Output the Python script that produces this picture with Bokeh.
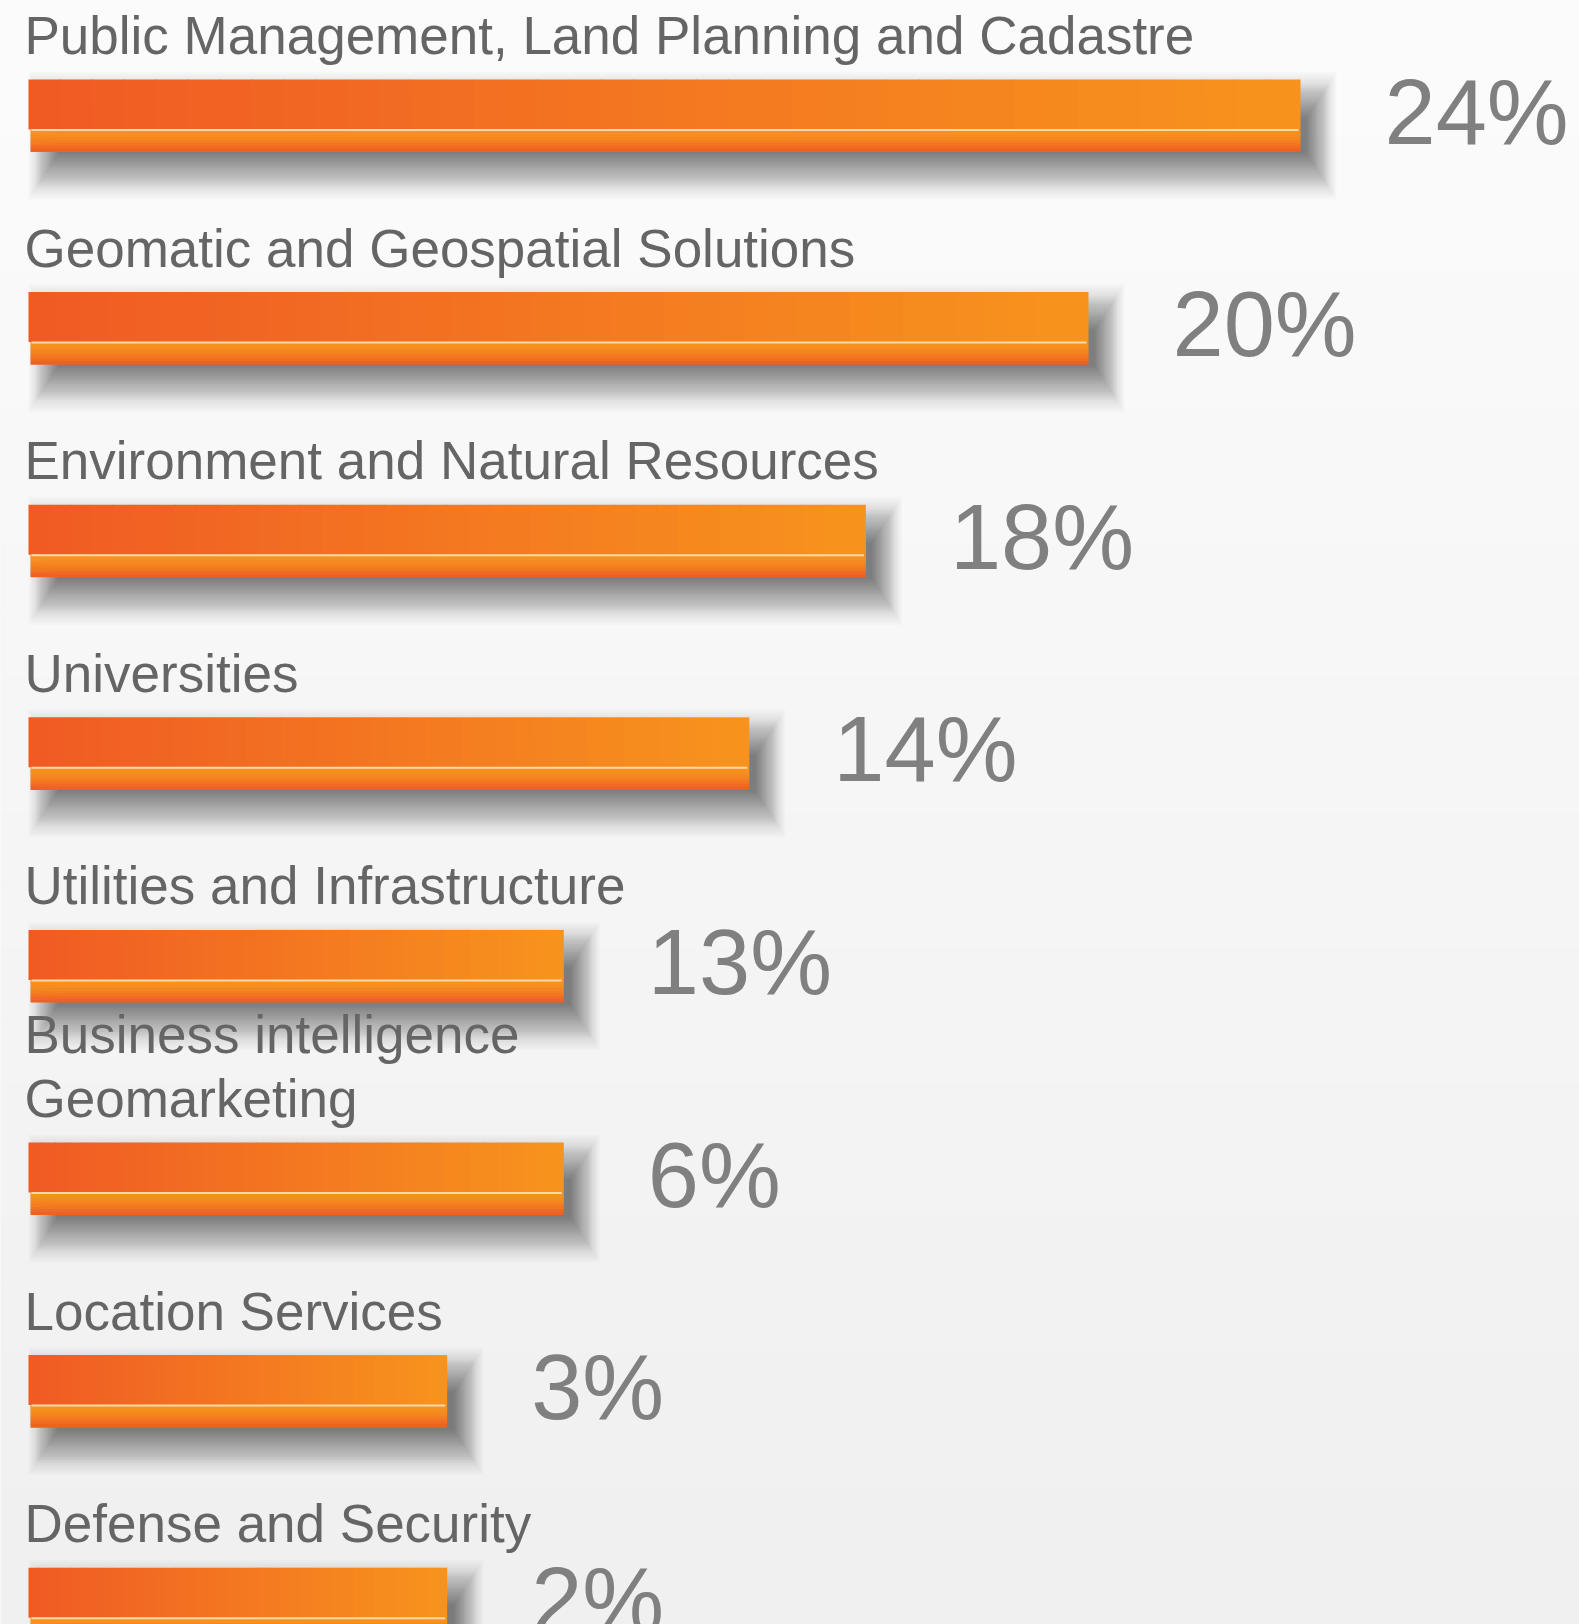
import numpy as np
from bokeh.plotting import figure
from bokeh.models import Range1d
from bokeh.core.properties import value
from bokeh.embed import file_html
from bokeh.resources import INLINE

# ---------------- data ----------------
categories = [
    "Public Management, Land Planning and Cadastre",
    "Geomatic and Geospatial Solutions",
    "Environment and Natural Resources",
    "Universities",
    "Utilities and Infrastructure",
    "Business intelligence\nGeomarketing",
    "Location Services",
    "Defense and Security",
]
shares = [24, 20, 18, 14, 13, 6, 3, 2]
share_labels = ["24%", "20%", "18%", "14%", "13%", "6%", "3%", "2%"]
# the infographic is not drawn to scale: bar lengths as drawn (in % units)
bar_lengths = [24, 20, 15.8, 13.6, 10.1, 10.1, 7.9, 7.9]

# ---------------- layout / style ----------------
W, H = 1579, 1624
PX = 53.0            # pixels per % unit
X0_PX = 28           # bar origin in pixels
ROW_TOP0 = 79
ROW_STEP = 212.6
FACE_H = 50
STRIP_H = 22
LABEL_GAP = 44
LINE_H = 64

C_LEFT = (240, 90, 36)
C_RIGHT = (247, 148, 29)


def u(px):
    return px / PX


def lerp(c1, c2, t):
    return "#%02x%02x%02x" % tuple(int(round(a + (b - a) * t)) for a, b in zip(c1, c2))


p = figure(width=W, height=H, output_backend="svg", toolbar_location=None,
           x_range=Range1d(-X0_PX / PX, (W - X0_PX) / PX),
           y_range=Range1d(H, 0), min_border=0)
p.axis.visible = False
p.grid.visible = False
p.outline_line_color = None
p.background_fill_color = "#f5f5f5"
p.border_fill_color = "#f5f5f5"

# background subtle vertical gradient
nb = 24
bl, br, bt, bb, bc = [], [], [], [], []
for k in range(nb):
    bl.append(-X0_PX / PX); br.append((W - X0_PX) / PX)
    bt.append(k * H / nb); bb.append((k + 1) * H / nb + 1)
    bc.append(lerp((251, 251, 251), (240, 240, 240), k / (nb - 1)))
p.quad(left=bl, right=br, top=bt, bottom=bb, fill_color=bc, line_color=None)

# soft drop shadows (stacked translucent rectangles)
sl, sr, st, sb, sa = [], [], [], [], []
for i, L in enumerate(bar_lengths):
    top = ROW_TOP0 + i * ROW_STEP
    bot = top + FACE_H + STRIP_H
    dx, dy = 18, 20
    for e in np.arange(-18, 29, 2.0):
        ex = 0.65 * e
        sl.append(u(dx - ex)); sr.append(L + u(dx + ex))
        st.append(top + dy - e); sb.append(bot + dy + e)
        sa.append(0.026 if e < 18 else 0.014)
p.quad(left=sl, right=sr, top=st, bottom=sb, fill_color="black", fill_alpha=sa, line_color=None)

# bar faces (horizontal gradient)
fl, fr, ft, fb, fc = [], [], [], [], []
N = 40
for i, L in enumerate(bar_lengths):
    top = ROW_TOP0 + i * ROW_STEP
    edges = np.linspace(0, L, N + 1)
    for j in range(N):
        fl.append(edges[j]); fr.append(min(edges[j + 1] + u(0.8), L))
        ft.append(top); fb.append(top + FACE_H)
        fc.append(lerp(C_LEFT, C_RIGHT, (j + 0.5) / N))
p.quad(left=fl, right=fr, top=ft, bottom=fb, fill_color=fc, line_color=None)

# lower strip (vertical gradient)
gl, gr, gt, gb, gc = [], [], [], [], []
M = 8
for i, L in enumerate(bar_lengths):
    top = ROW_TOP0 + i * ROW_STEP + FACE_H
    for j in range(M):
        gl.append(u(2)); gr.append(L)
        gt.append(top + j * STRIP_H / M); gb.append(top + (j + 1) * STRIP_H / M + 0.6)
        t = (j + 0.5) / M
        gc.append(lerp(C_RIGHT, C_LEFT, t ** 1.6))
p.quad(left=gl, right=gr, top=gt, bottom=gb, fill_color=gc, line_color=None)

# highlight line between face and strip
hl = [u(3) for _ in bar_lengths]
hr = [L - u(2) for L in bar_lengths]
ht = [ROW_TOP0 + i * ROW_STEP + FACE_H - 0.5 for i in range(len(bar_lengths))]
hb = [t + 2 for t in ht]
p.quad(left=hl, right=hr, top=ht, bottom=hb, fill_color="#fdd9a8", line_color=None)

# category labels
lx, ly, lt = [], [], []
for i, cat in enumerate(categories):
    top = ROW_TOP0 + i * ROW_STEP
    lines = cat.split("\n")
    n = len(lines)
    for k, line in enumerate(lines):
        lx.append(0); ly.append(top - LABEL_GAP - (n - 1 - k) * LINE_H); lt.append(line)
p.text(x=lx, y=ly, text=lt, x_offset=-4, text_font=value("Liberation Sans"),
       text_font_size=value("53px"), text_color="#656565", text_baseline="alphabetic",
       text_align="left")

# share labels
py_ = [ROW_TOP0 + i * ROW_STEP + 32 for i in range(len(shares))]
p.text(x=list(bar_lengths), y=py_, text=share_labels, x_offset=84, text_font=value("Liberation Sans"),
       text_font_size=value("92px"), text_color="#808080", text_baseline="middle",
       text_align="left")

open("out.html", "w").write(file_html(p, INLINE))
